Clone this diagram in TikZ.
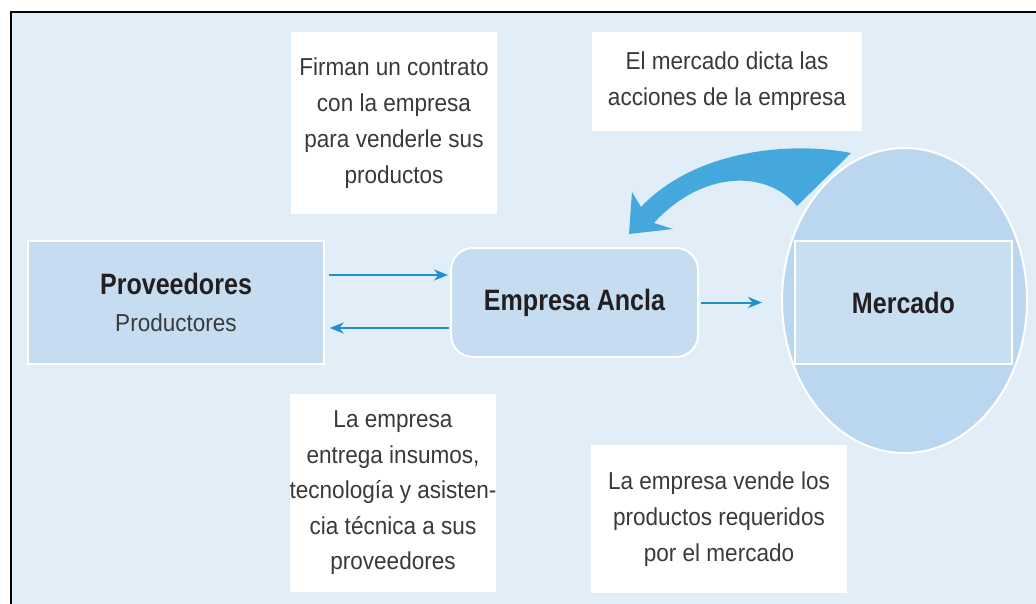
\documentclass[tikz,border=0pt]{standalone}
\usepackage{fontspec}
\setmainfont[FakeStretch=0.92]{Liberation Sans}
\newfontfamily\bfam[FakeStretch=0.85]{Liberation Sans}
\usetikzlibrary{shapes.geometric,arrows.meta,calc}
\definecolor{bg}{HTML}{E1EDF7}
\definecolor{boxfill}{HTML}{C6DDF1}
\definecolor{ellfill}{HTML}{BBD7EF}
\definecolor{mktfill}{HTML}{C8DFF2}
\definecolor{arrowblue}{HTML}{1F8FD2}
\definecolor{bigarrow}{HTML}{45A8DD}
\definecolor{txt}{HTML}{3A3A3A}
\definecolor{btxt}{HTML}{231F20}
\tikzset{
  regtext/.style={text=txt, font=\fontsize{24.5}{36}\selectfont},
  boldtext/.style={text=btxt, font=\bfam\bfseries\fontsize{29.5}{36}\selectfont},
  bluebox/.style={draw=white, line width=1.5, fill=boxfill, inner sep=0, align=center},
  notebox/.style={fill=white, inner sep=0, align=center, regtext},
  arr/.style={draw=arrowblue, line width=2, -{Stealth[length=14pt,width=11pt]}}
}
\begin{document}
\begin{tikzpicture}[x=1pt,y=-1pt]
\useasboundingbox (0,0) rectangle (1036,604);
\fill[white] (0,0) rectangle (1036,604);
\fill[bg] (10.5,12) rectangle (1036,604);
\draw[black, line width=2] (10.5,604) -- (10.5,12) -- (1036,12);

% curved arrow (shape)
\fill[bigarrow] (851,153) .. controls (790,141) and (695,150) .. (641,207)
  -- (632,192) -- (629,234) -- (673,229) -- (654,223)
  .. controls (700,172) and (765,168) .. (797,206) -- cycle;

% nodes
\node[bluebox, minimum width=296, minimum height=123, font=\fontsize{24.5}{37}\selectfont] (prov) at (176,302.5)
  {{\bfam\bfseries\color{btxt}\fontsize{29.5}{37}\selectfont Proveedores}\\
   {\color{txt}Productores}};
\node[bluebox, line width=2, rounded corners=22, minimum width=247, minimum height=109, boldtext] (emp) at (574.5,302.5) {Empresa Ancla};
\node[ellipse, draw=white, line width=2, fill=ellfill, minimum width=245, minimum height=305, inner sep=0] (mkt) at (904.5,300.5) {};
\node[bluebox, fill=mktfill, minimum width=217, minimum height=123, boldtext] (mktbox) at (903.5,302.5) {Mercado};

\node[notebox, minimum width=206, minimum height=182] (t1) at (394,123)
  {Firman un contrato\\con la empresa\\para venderle sus\\productos};
\node[notebox, minimum width=270, minimum height=99] (t2) at (727,81.5)
  {El mercado dicta las\\acciones de la empresa};
\node[notebox, minimum width=206, minimum height=198, font=\fontsize{24.5}{35.5}\selectfont] (t3) at (393,493)
  {La empresa\\entrega insumos,\\tecnología y asisten-\\cia técnica a sus\\proveedores};
\node[notebox, minimum width=256, minimum height=148] (t4) at (719,519)
  {La empresa vende los\\productos requeridos\\por el mercado};

% connectors
\draw[arr] ($(prov.east)+(4,-27.5)$) -- ($(emp.west)+(-2,-27.5)$);
\draw[arr] ($(emp.west)+(-1,25.5)$) -- ($(prov.east)+(5,25.5)$);
\draw[arr] ($(emp.east)+(2,0)$) -- ($(mkt.west |- emp.east)+(-19,0)$);
\end{tikzpicture}
\end{document}
